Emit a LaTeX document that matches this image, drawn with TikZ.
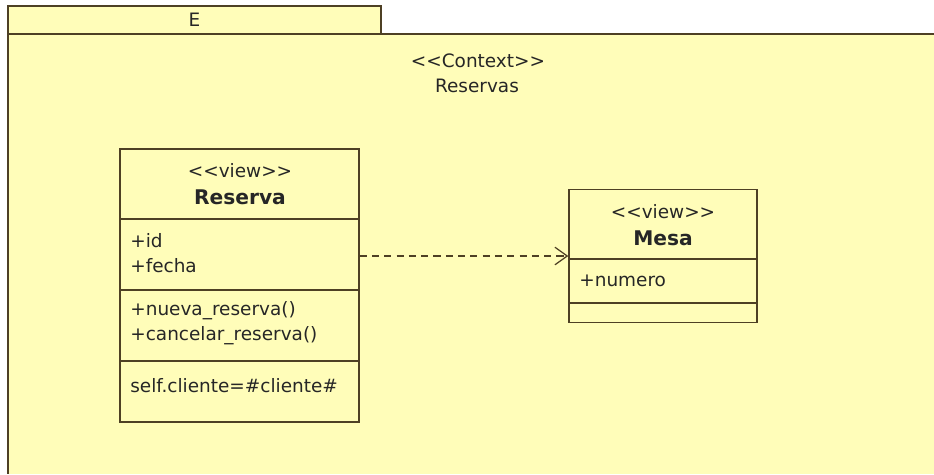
\documentclass[tikz,border=0pt]{standalone}
\usepackage{fontspec}
\setmainfont{DejaVu Sans}
\usetikzlibrary{arrows.meta}
\definecolor{pkgfill}{RGB}{255,253,185}
\definecolor{umlline}{RGB}{78,64,36}
\tikzset{
  box/.style={draw=umlline,line width=0.8pt,fill=pkgfill,inner sep=0pt},
  txt/.style={inner sep=0pt,font=\fontsize{10.5}{12}\selectfont,text=black!85},
  cname/.style={txt,font=\fontsize{11.5}{13}\selectfont\bfseries},
  dep/.style={draw=umlline,line width=0.7pt,dash pattern=on 4pt off 3pt,
    -{Straight Barb[length=7pt,width=10pt]}},
}
\begin{document}
\begin{tikzpicture}[x=0.02cm,y=-0.02cm]
    \def\px{0.02cm}
    \useasboundingbox (0,0) rectangle (934,474);
    % package E
    \fill[pkgfill] (8,34) rectangle (934,474);
    \draw[umlline,line width=0.8pt] (934,34) -- (8,34) -- (8,474);
    \node[box,minimum width=373*\px,minimum height=28*\px] (tab) at (194.5,20) {};
    \node[txt] (tabname) at (tab.center) {E};
    \node[txt] (ctx) at (478,61) {<{}<Context>{}>};
    \node[txt] (ctxname) at (477,86) {Reservas};
    % class Reserva
    \node[box,minimum width=239*\px,minimum height=273*\px] (Reserva) at (239.5,285.5) {};
    \draw[umlline,line width=0.8pt] (120,219) -- (359,219);
    \draw[umlline,line width=0.8pt] (120,290) -- (359,290);
    \draw[umlline,line width=0.8pt] (120,361) -- (359,361);
    \node[txt] (R0) at (240,171) {<{}<view>{}>};
    \node[cname] (R1) at (240,197) {Reserva};
    \node[txt,anchor=west] (R2) at (130,241) {+id};
    \node[txt,anchor=west] (R3) at (130,266) {+fecha};
    \node[txt,anchor=west] (R4) at (130,311) {+nueva\_reserva()};
    \node[txt,anchor=west] (R5) at (130,336) {+cancelar\_reserva()};
    \node[txt,anchor=west] (R6) at (130,386) {self.cliente=\#cliente\#};
    % class Mesa
    \node[box,minimum width=188*\px,minimum height=133*\px] (Mesa) at (663,256) {};
    \draw[umlline,line width=0.8pt] (569,259) -- (757,259);
    \draw[umlline,line width=0.8pt] (569,303) -- (757,303);
    \node[txt] (M0) at (663,212) {<{}<view>{}>};
    \node[cname] (M1) at (663,238) {Mesa};
    \node[txt,anchor=west] (M2) at (579,281) {+numero};
    % dependency
    \path (Reserva.east |- Mesa.west) edge[dep] (Mesa.west);
\end{tikzpicture}
\end{document}
